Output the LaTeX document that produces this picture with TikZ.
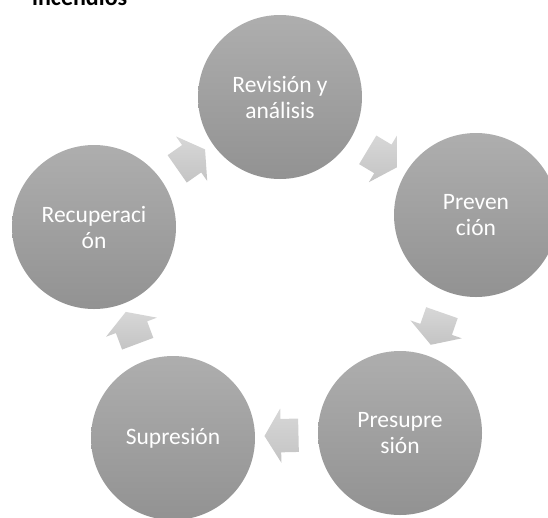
\documentclass[tikz,border=0pt]{standalone}
\usepackage{fontspec}
\setmainfont{Carlito}
\usetikzlibrary{shapes.arrows}
\definecolor{circTop}{RGB}{174,174,174}
\definecolor{circBot}{RGB}{146,146,146}
\definecolor{arrTop}{RGB}{215,215,215}
\definecolor{arrBot}{RGB}{196,196,196}
\tikzset{
  circ/.style={circle, minimum size=164pt, inner sep=0pt, draw=none,
    top color=circTop, bottom color=circBot, text=white, align=center,
    font=\fontsize{23.5}{26}\selectfont},
  blockarrow/.style={single arrow, draw=none, top color=arrTop, bottom color=arrBot,
    minimum height=34pt, minimum width=0pt, inner xsep=0pt, inner ysep=16.5pt,
    single arrow head extend=10.5pt, single arrow tip angle=118,
    sloped, allow upside down, pos=0.5},
  titletext/.style={anchor=base west, inner sep=0pt, text=black,
    font=\bfseries\fontsize{24}{28}\selectfont}
}
\begin{document}
\begin{tikzpicture}[x=1pt,y=-1pt]
\useasboundingbox (0,0) rectangle (548,517);
\clip (0,0) rectangle (548,517);
\node[titletext] (title) at (32,5) {incendios};
\node[circ] (rev)  at (280,97)  {Revisión y\\análisis};
\node[circ] (prev) at (476,215) {Preven\\ción};
\node[circ] (pres) at (400,433) {Presupre\\sión};
\node[circ] (sup)  at (173,438) {Supresión};
\node[circ] (rec)  at (94,227)  {Recuperaci\\ón};
\path (rec)  -- node[blockarrow] (a1) {} (rev);
\path (rev)  -- node[blockarrow] (a2) {} (prev);
\path (prev) -- node[blockarrow] (a3) {} (pres);
\path (pres) -- node[blockarrow] (a4) {} (sup);
\path (sup)  -- node[blockarrow] (a5) {} (rec);
\end{tikzpicture}
\end{document}
